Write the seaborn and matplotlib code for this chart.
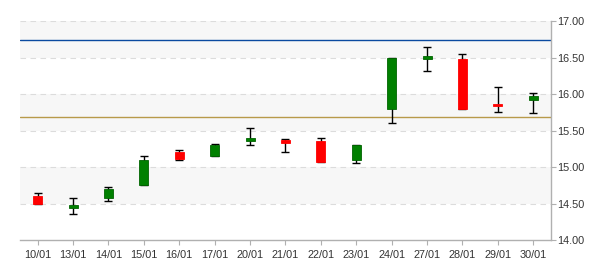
import matplotlib
matplotlib.use("Agg")
import matplotlib.pyplot as plt
import seaborn as sns
import pandas as pd
import numpy as np

dates = ["10/01", "13/01", "14/01", "15/01", "16/01", "17/01", "20/01", "21/01",
         "22/01", "23/01", "24/01", "27/01", "28/01", "29/01", "30/01"]
open_ = [14.60, 14.44, 14.58, 14.75, 15.20, 15.15, 15.35, 15.37, 15.36, 15.09, 15.79, 16.48, 16.48, 15.86, 15.92]
close = [14.50, 14.48, 14.70, 15.10, 15.11, 15.30, 15.40, 15.33, 15.07, 15.30, 16.49, 16.52, 15.79, 15.84, 15.97]
high = [14.65, 14.57, 14.72, 15.15, 15.23, 15.32, 15.54, 15.38, 15.40, 15.30, 16.49, 16.65, 16.55, 16.09, 16.01]
low = [14.49, 14.35, 14.53, 14.75, 15.09, 15.15, 15.30, 15.21, 15.07, 15.05, 15.60, 16.31, 15.79, 15.76, 15.74]
ref_high = 16.735
ref_low = 15.68
y_ticks = [14.0, 14.5, 15.0, 15.5, 16.0, 16.5, 17.0]

df = pd.DataFrame({"date": dates, "open": open_, "close": close, "high": high, "low": low})
df["bottom"] = df[["open", "close"]].min(axis=1)
df["height"] = (df["close"] - df["open"]).abs().clip(lower=0.025)
df["up"] = df["close"] >= df["open"]

sns.set_style("white")
plt.rcParams["font.family"] = ["Liberation Sans", "DejaVu Sans"]

fig = plt.figure(figsize=(6, 2.7), dpi=100)
ax = fig.add_axes([0.0333, 0.111, 0.885, 0.811])

x = np.arange(len(df))

# background bands and grid
for lo in [14.5, 15.5, 16.5]:
    ax.axhspan(lo, lo + 0.5, color="#f7f7f7", zorder=0, lw=0)
for yv in y_ticks[1:]:
    ax.axhline(yv, color="#dcdcdc", lw=0.8, ls=(0, (5, 4)), zorder=0.5)

ax.axhline(ref_high, color="#0a4aa0", lw=1.0, zorder=1)
ax.axhline(ref_low, color="#b89a4a", lw=1.0, zorder=1)

# wicks
mid = df["bottom"] + df["height"] / 2
ax.errorbar(x, mid, yerr=[mid - df["low"], df["high"] - mid], fmt="none",
            ecolor="black", elinewidth=1.0, capsize=2.6, capthick=1.0, zorder=2)

# bodies
colors = ["#008000" if u else "#ff0000" for u in df["up"]]
edges = ["#006400" if u else "#ff0000" for u in df["up"]]
ax.bar(x, df["height"], bottom=df["bottom"], width=0.25, color=colors,
       edgecolor=edges, linewidth=0.6, zorder=3)

ax.set_xlim(-0.5, len(df) - 0.5)
ax.set_ylim(14.0, 17.0)
ax.set_xticks(x)
ax.set_xticklabels(dates)
ax.set_yticks(y_ticks)
ax.set_yticklabels([f"{v:.2f}" for v in y_ticks])
ax.yaxis.tick_right()

for s in ["top", "left"]:
    ax.spines[s].set_visible(False)
for s in ["bottom", "right"]:
    ax.spines[s].set_color("#b0b0b0")
    ax.spines[s].set_linewidth(1.0)

ax.tick_params(axis="both", which="both", length=3.5, width=0.8, color="#b0b0b0",
               labelsize=7.8, labelcolor="#333333")
ax.tick_params(axis="y", right=True, left=False, labelright=True, labelleft=False, pad=1)
ax.tick_params(axis="x", bottom=True, pad=4)
ax.set_xlabel("")
ax.set_ylabel("")

fig.savefig("out.png", dpi=100)
